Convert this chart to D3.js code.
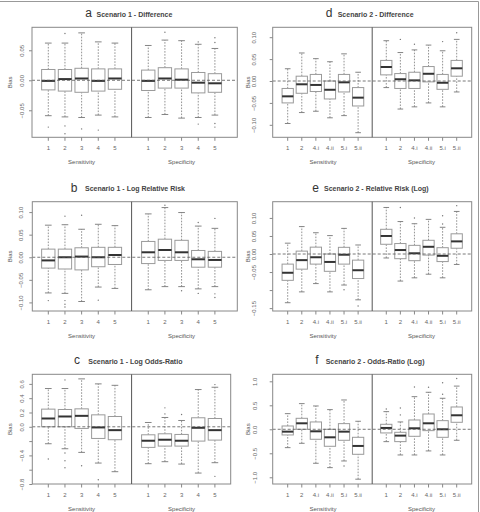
<!DOCTYPE html>
<html>
<head>
<meta charset="utf-8">
<script src="https://cdn.jsdelivr.net/npm/d3@7"></script>
<style>
  body { margin: 0; background: #fff; }
  svg { display: block; font-family: "Liberation Sans", Arial, sans-serif; }
</style>
</head>
<body>
<svg id="fig" width="480" height="512"></svg>
<script>
// group labels
const groupNames = ["Sensitivity", "Specificity"];
const catsS1 = ["1", "2", "3", "4", "5"];
const catsS2 = ["1", "2", "4.i", "4.ii", "5.i", "5.ii"];

// box stats: [lower whisker, q1, median, q3, upper whisker], sensitivity boxes then specificity boxes
const diffS1 = [
  [-0.059, -0.016, -0.001, 0.018, 0.062], [-0.061, -0.018, 0.002, 0.018, 0.062],
  [-0.062, -0.020, 0.003, 0.020, 0.079], [-0.058, -0.018, -0.001, 0.019, 0.064],
  [-0.061, -0.015, 0.003, 0.019, 0.062],
  [-0.062, -0.017, -0.001, 0.017, 0.058], [-0.057, -0.013, 0.003, 0.021, 0.067],
  [-0.063, -0.013, 0.001, 0.019, 0.066], [-0.062, -0.021, -0.004, 0.013, 0.060],
  [-0.058, -0.020, -0.005, 0.011, 0.053]
];
const diffS1Out = [[-0.078], [0.078, -0.076, -0.089], [-0.081], [-0.083], [], [], [0.080], [], [0.064, -0.073], [0.071, 0.063, -0.072, -0.078]];

const lrrS1 = [
  [-0.079, -0.024, -0.007, 0.018, 0.071], [-0.080, -0.026, 0.000, 0.018, 0.072],
  [-0.098, -0.028, 0.0015, 0.021, 0.062], [-0.066, -0.021, 0.000, 0.022, 0.073],
  [-0.069, -0.016, 0.005, 0.022, 0.070],
  [-0.072, -0.014, 0.011, 0.035, 0.096], [-0.065, -0.007, 0.016, 0.040, 0.110],
  [-0.065, -0.007, 0.011, 0.0375, 0.099], [-0.070, -0.022, -0.0045, 0.015, 0.069],
  [-0.065, -0.022, -0.006, 0.013, 0.064]
];
const lrrS1Out = [[-0.096], [0.091, -0.096, -0.104, -0.110], [0.093], [-0.095], [], [], [0.115], [-0.074], [0.077, -0.080], [0.086, -0.081, -0.089]];

const lorS1 = [
  [-0.237, 0.000, 0.116, 0.247, 0.535], [-0.307, 0.000, 0.144, 0.242, 0.535],
  [-0.358, -0.023, 0.153, 0.251, 0.670], [-0.507, -0.163, -0.009, 0.167, 0.600],
  [-0.628, -0.181, -0.047, 0.144, 0.580],
  [-0.516, -0.288, -0.195, -0.112, 0.060], [-0.488, -0.270, -0.181, -0.098, 0.130],
  [-0.521, -0.270, -0.195, -0.107, 0.088], [-0.647, -0.200, -0.014, 0.126, 0.521],
  [-0.502, -0.186, -0.047, 0.116, 0.553]
];
const lorS1Out = [[-0.451], [0.656, -0.367, -0.474, -0.572], [-0.544], [-0.740], [], [], [0.265, 0.180], [0.172], [], [0.590, -0.693]];

const diffS2 = [
  [-0.097, -0.050, -0.035, -0.017, 0.028], [-0.072, -0.028, -0.0075, 0.011, 0.064],
  [-0.069, -0.024, -0.009, 0.015, 0.051], [-0.084, -0.041, -0.020, 0.000, 0.044],
  [-0.079, -0.025, -0.003, 0.015, 0.062], [-0.118, -0.057, -0.038, -0.015, 0.020],
  [-0.015, 0.014, 0.032, 0.047, 0.092], [-0.064, -0.017, 0.004, 0.017, 0.065],
  [-0.059, -0.017, 0.0015, 0.020, 0.071], [-0.050, -0.002, 0.0165, 0.033, 0.082],
  [-0.059, -0.019, -0.004, 0.015, 0.069], [-0.025, 0.011, 0.029, 0.047, 0.095]
];
const diffS2Out = [[], [], [], [], [], [], [], [0.095], [0.084], [], [0.090], [0.110]];

const rrS2 = [
  [-0.135, -0.073, -0.052, -0.028, 0.030], [-0.105, -0.042, -0.017, 0.008, 0.076],
  [-0.082, -0.028, -0.009, 0.019, 0.059], [-0.105, -0.048, -0.022, 0.000, 0.051],
  [-0.086, -0.028, -0.002, 0.0185, 0.071], [-0.127, -0.068, -0.045, -0.017, 0.025],
  [-0.011, 0.027, 0.050, 0.0685, 0.129], [-0.075, -0.013, 0.011, 0.029, 0.090],
  [-0.066, -0.0185, 0.002, 0.024, 0.084], [-0.056, -0.003, 0.020, 0.038, 0.096],
  [-0.066, -0.021, -0.005, 0.0175, 0.074], [-0.029, 0.016, 0.035, 0.056, 0.118]
];
const rrS2Out = [[], [], [], [], [-0.099], [-0.144], [], [0.129], [0.100], [], [0.106, 0.083], [0.134]];

const orS2 = [
  [-0.382, -0.118, -0.049, 0.069, 0.326], [-0.292, 0.000, 0.125, 0.229, 0.535],
  [-0.708, -0.208, -0.042, 0.153, 0.486], [-0.799, -0.354, -0.167, 0.000, 0.410],
  [-0.660, -0.229, -0.049, 0.118, 0.611], [-1.040, -0.521, -0.347, -0.167, 0.167],
  [-0.257, -0.076, 0.028, 0.104, 0.368], [-0.535, -0.257, -0.132, -0.0625, 0.153],
  [-0.535, -0.146, 0.021, 0.194, 0.680], [-0.451, -0.028, 0.125, 0.319, 0.771],
  [-0.535, -0.167, 0.000, 0.180, 0.646], [-0.229, 0.146, 0.292, 0.465, 0.900]
];
const orS2Out = [[], [], [], [], [-0.764], [], [0.424], [0.444, 0.300], [0.880], [0.875], [0.970, 0.730], [1.060]];

// y ticks; hidden = tick without label (R drops overlapping labels)
const ticksDiffS1 = [-0.05, 0, 0.05];
const ticksLrrS1 = [-0.10, -0.05, 0, 0.05, 0.10];
const ticksLorS1 = [-0.8, -0.6, -0.4, -0.2, 0, 0.2, 0.4, 0.6];
const hiddenLorS1 = [-0.6, -0.2];
const ticksDiffS2 = [-0.10, -0.05, 0, 0.05, 0.10];
const ticksRrS2 = [-0.15, -0.10, -0.05, 0, 0.05, 0.10];
const hiddenRrS2 = [-0.10];
const ticksOrS2 = [-1.0, -0.5, 0, 0.5, 1.0];

const svg = d3.select("#fig");

// outer figure border (top and right)
svg.append("line").attr("x1", 0).attr("x2", 478.5).attr("y1", 1.5).attr("y2", 1.5).attr("stroke", "#999");
svg.append("line").attr("x1", 478.5).attr("x2", 478.5).attr("y1", 1.5).attr("y2", 512).attr("stroke", "#999");

function drawPanel(cfg) {
  let vis = {};
  vis.nSens = cfg.cats.length;

  // slot positions: sens 1..n, divider at n+1, spec n+2..2n+1
  vis.x = d3.scaleLinear().domain([1, 2 * vis.nSens + 1]).range(cfg.xRange);
  vis.y = d3.scaleLinear().domain(cfg.yDomain).range([cfg.bottom, cfg.top]);
  vis.pos = i => i < vis.nSens ? i + 1 : i + 2;
  vis.step = vis.x(2) - vis.x(1);
  vis.bw = vis.step * 0.8;

  vis.g = svg.append("g");

  let boxes = vis.g.selectAll(".box")
    .data(cfg.stats)
    .join("g")
    .attr("class", "box")
    .attr("transform", (d, i) => `translate(${vis.x(vis.pos(i))},0)`);

  // whiskers
  boxes.append("line")
    .attr("y1", d => vis.y(d[0])).attr("y2", d => vis.y(d[1]))
    .attr("stroke", "#777").attr("stroke-width", 0.8).attr("stroke-dasharray", "1.6,1.4");
  boxes.append("line")
    .attr("y1", d => vis.y(d[3])).attr("y2", d => vis.y(d[4]))
    .attr("stroke", "#777").attr("stroke-width", 0.8).attr("stroke-dasharray", "1.6,1.4");
  // caps
  boxes.selectAll(".cap")
    .data(d => [d[0], d[4]])
    .join("line")
    .attr("x1", -vis.bw / 4).attr("x2", vis.bw / 4)
    .attr("y1", d => vis.y(d)).attr("y2", d => vis.y(d))
    .attr("stroke", "#777").attr("stroke-width", 0.9);
  // box
  boxes.append("rect")
    .attr("x", -vis.bw / 2).attr("width", vis.bw)
    .attr("y", d => vis.y(d[3])).attr("height", d => vis.y(d[1]) - vis.y(d[3]))
    .attr("fill", "#fff").attr("stroke", "#9a9a9a").attr("stroke-width", 1);
  // median
  boxes.append("line")
    .attr("x1", -vis.bw / 2).attr("x2", vis.bw / 2)
    .attr("y1", d => vis.y(d[2])).attr("y2", d => vis.y(d[2]))
    .attr("stroke", "#333").attr("stroke-width", 2);

  // dashed zero line, drawn over the boxes as in the original
  vis.g.append("line")
    .attr("x1", cfg.left).attr("x2", cfg.right)
    .attr("y1", vis.y(0)).attr("y2", vis.y(0))
    .attr("stroke", "#555").attr("stroke-width", 0.8).attr("stroke-dasharray", "3,2");

  // outliers
  boxes.selectAll(".out")
    .data((d, i) => cfg.outliers[i])
    .join("circle")
    .attr("cx", 0).attr("cy", d => vis.y(d)).attr("r", 0.7)
    .attr("fill", "#777");

  // frame + divider
  vis.g.append("rect")
    .attr("x", cfg.left).attr("y", cfg.top)
    .attr("width", cfg.right - cfg.left).attr("height", cfg.bottom - cfg.top)
    .attr("fill", "none").attr("stroke", "#888").attr("stroke-width", 1);
  vis.g.append("line")
    .attr("x1", vis.x(vis.nSens + 1)).attr("x2", vis.x(vis.nSens + 1))
    .attr("y1", cfg.top).attr("y2", cfg.bottom)
    .attr("stroke", "#555").attr("stroke-width", 1);

  // y axis
  let yAxis = d3.axisLeft(vis.y)
    .tickValues(cfg.ticks)
    .tickSize(3)
    .tickFormat(d => (cfg.hidden || []).some(h => Math.abs(h - d) < 1e-9) ? "" : cfg.fmt(d));
  let yg = vis.g.append("g")
    .attr("transform", `translate(${cfg.left},0)`)
    .call(yAxis);
  yg.select(".domain").remove();
  yg.selectAll(".tick line").attr("stroke", "#888");
  yg.selectAll(".tick text")
    .attr("x", 0).attr("dy", 0).attr("y", -cfg.labelOff)
    .attr("transform", "rotate(-90)")
    .attr("text-anchor", "middle")
    .attr("fill", "#666").attr("font-size", 6);

  // x axis
  let xs = cfg.cats.concat(cfg.cats);
  let xg = vis.g.append("g");
  xg.selectAll("line")
    .data(xs)
    .join("line")
    .attr("x1", (d, i) => vis.x(vis.pos(i))).attr("x2", (d, i) => vis.x(vis.pos(i)))
    .attr("y1", cfg.bottom).attr("y2", cfg.bottom + 3.5)
    .attr("stroke", "#888");
  xg.selectAll("text")
    .data(xs)
    .join("text")
    .attr("x", (d, i) => vis.x(vis.pos(i)))
    .attr("y", cfg.bottom + 13)
    .attr("text-anchor", "middle")
    .attr("fill", "#666").attr("font-size", 6)
    .text(d => d);

  // group titles
  vis.g.selectAll(".grp")
    .data(groupNames)
    .join("text")
    .attr("x", (d, i) => i == 0 ? vis.x((vis.nSens + 1) / 2) : vis.x(vis.nSens + 1 + (vis.nSens + 1) / 2))
    .attr("y", cfg.bottom + 27)
    .attr("text-anchor", "middle")
    .attr("fill", "#555").attr("font-size", 6)
    .text(d => d);

  // Bias label
  vis.g.append("text")
    .attr("transform", `translate(${cfg.biasX},${(cfg.top + cfg.bottom) / 2}) rotate(-90)`)
    .attr("text-anchor", "middle")
    .attr("fill", "#555").attr("font-size", 6)
    .text("Bias");

  // title
  vis.g.append("text")
    .attr("x", cfg.letterX).attr("y", cfg.top - 10)
    .attr("text-anchor", "middle")
    .attr("fill", "#333").attr("font-size", 12)
    .text(cfg.letter);
  vis.g.append("text")
    .attr("x", cfg.titleX).attr("y", cfg.top - 10.5)
    .attr("fill", "#444").attr("font-size", 7).attr("font-weight", "bold")
    .text(cfg.title);
}

const f2 = d3.format(".2f");
const f1 = d3.format(".1f");
const xS1 = [48.3, 214.9];
const xS2 = [287.7, 456.7];

drawPanel({ letter: "a", title: "Scenario 1 - Difference", letterX: 88.5, titleX: 96.5,
  left: 32, right: 237.3, top: 27.3, bottom: 137.3, xRange: xS1, yDomain: [-0.095, 0.0883],
  cats: catsS1, stats: diffS1, outliers: diffS1Out, ticks: ticksDiffS1, fmt: f2, labelOff: 8, biasX: 11.5 });
drawPanel({ letter: "b", title: "Scenario 1 - Log Relative Risk", letterX: 74, titleX: 85,
  left: 32.3, right: 237.3, top: 201.7, bottom: 311, xRange: xS1, yDomain: [-0.119, 0.123],
  cats: catsS1, stats: lrrS1, outliers: lrrS1Out, ticks: ticksLrrS1, fmt: f2, labelOff: 9, biasX: 11.5 });
drawPanel({ letter: "c", title: "Scenario 1 - Log Odds-Ratio", letterX: 77, titleX: 88.3,
  left: 32.3, right: 230.7, top: 374.3, bottom: 484, xRange: xS1, yDomain: [-0.80, 0.734],
  cats: catsS1, stats: lorS1, outliers: lorS1Out, ticks: ticksLorS1, hidden: hiddenLorS1, fmt: f1, labelOff: 8, biasX: 12 });
drawPanel({ letter: "d", title: "Scenario 2 - Difference", letterX: 329, titleX: 337.7,
  left: 272.7, right: 471.7, top: 27.3, bottom: 137.3, xRange: xS2, yDomain: [-0.1285, 0.1226],
  cats: catsS2, stats: diffS2, outliers: diffS2Out, ticks: ticksDiffS2, fmt: f2, labelOff: 16.5, biasX: 249.5 });
drawPanel({ letter: "e", title: "Scenario 2 - Relative Risk (Log)", letterX: 315.5, titleX: 324,
  left: 272.7, right: 471.7, top: 201.7, bottom: 311, xRange: xS2, yDomain: [-0.158, 0.145],
  cats: catsS2, stats: rrS2, outliers: rrS2Out, ticks: ticksRrS2, hidden: hiddenRrS2, fmt: f2, labelOff: 16.5, biasX: 250 });
drawPanel({ letter: "f", title: "Scenario 2 - Odds-Ratio (Log)", letterX: 317, titleX: 325.7,
  left: 272.7, right: 471.7, top: 374.3, bottom: 484, xRange: xS2, yDomain: [-1.14, 1.146],
  cats: catsS2, stats: orS2, outliers: orS2Out, ticks: ticksOrS2, fmt: f1, labelOff: 15.5, biasX: 250 });
</script>
</body>
</html>
